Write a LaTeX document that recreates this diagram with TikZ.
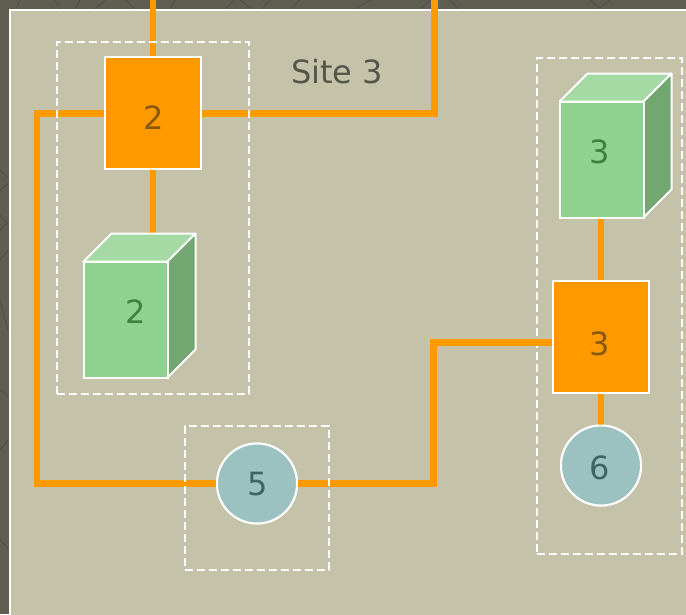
\documentclass[tikz,border=0pt]{standalone}
\usepackage{fontspec}
\setmainfont{DejaVu Sans}
\definecolor{bgdark}{HTML}{5E5F50}
\definecolor{bgline}{HTML}{50514A}
\definecolor{panel}{HTML}{C4C2A8}
\definecolor{wire}{HTML}{FF9900}
\definecolor{front}{HTML}{8FD18F}
\definecolor{topf}{HTML}{A5DAA5}
\definecolor{sidef}{HTML}{72A772}
\definecolor{teal}{HTML}{9BC1C1}
\definecolor{swtxt}{HTML}{885A10}
\definecolor{grtxt}{HTML}{3F7F3F}
\definecolor{cirtxt}{HTML}{3E6464}
\definecolor{titletxt}{HTML}{55564A}
\tikzset{
  wirel/.style={draw=wire,line width=6.4pt,line join=miter},
  grp/.style={draw=white,line width=2pt,dash pattern=on 8pt off 4pt,inner sep=0pt},
  sw/.style={draw=white,line width=2pt,fill=wire,inner sep=0pt,minimum width=96pt,minimum height=112pt},
  srvf/.style={draw=white,line width=2pt,fill=front,inner sep=0pt,minimum width=84pt,minimum height=116pt},
  cir/.style={circle,draw=white,line width=2pt,fill=teal,inner sep=0pt,minimum size=80pt},
  srvt/.style={draw=white,line width=2pt,fill=topf,line join=round},
  srvs/.style={draw=white,line width=2pt,fill=sidef,line join=round},
  lab/.style={font=\fontsize{32}{32}\selectfont,inner sep=0pt},
  tex/.style={draw=bgline,line width=1pt}
}
\begin{document}
\begin{tikzpicture}[x=1pt,y=-1pt]
\useasboundingbox (0,0) rectangle (686,614);
\fill[bgdark] (0,0) rectangle (686,614);
\draw[tex] (20,0)--(16,9) (55,0)--(60,9) (75,9)--(80,0) (95,9)--(105,0) (125,0)--(135,9) (170,9)--(175,0) (225,9)--(235,0) (240,0)--(252,9) (270,0)--(262,9) (290,9)--(300,0) (355,9)--(370,0) (420,9)--(430,0) (450,0)--(458,9) (590,0)--(600,9) (598,9)--(610,0);
\draw[tex] (0,170)--(8,178) (0,190)--(8,184) (0,215)--(8,225) (0,230)--(8,222) (0,260)--(8,250) (0,300)--(8,330) (0,390)--(8,396) (0,450)--(8,440) (0,540)--(8,548);
\draw[white,line width=2pt,fill=panel] (9.5,9.5) rectangle (700,630);
% groups
\node[grp,minimum width=192pt,minimum height=352pt] (g1) at (153,217.5) {};
\node[grp,minimum width=144pt,minimum height=144pt] (g2) at (257,497.5) {};
\node[grp,minimum width=145pt,minimum height=496pt] (g3) at (609.5,305.5) {};
% anchors
\coordinate (topa) at (153,-2);
\coordinate (topb) at (434.5,-2);
\coordinate (bend1) at (434.5,113.5);
\coordinate (bend2) at (37,113.5);
\coordinate (bend3) at (37,483.5);
\coordinate (bend4) at (433.5,483.5);
\coordinate (bend5) at (433.5,342.5);
\coordinate (d2top) at (153,236);
\coordinate (d3bot) at (601,216);
% nodes that the connectors are attached to
\node[sw] (sw2) at (153,113) {};
\node[sw] (sw3) at (601,337) {};
\node[cir] (ci5) at (257,483.5) {};
\node[cir] (ci6) at (601,465.5) {};
% wires
\draw[wirel] (topa) -- (sw2.north);
\draw[wirel] (sw2.east |- bend1) -- (bend1) -- (topb);
\draw[wirel] (sw2.west |- bend2) -- (bend2) -- (bend3) -- (ci5.west);
\draw[wirel] (ci5.east) -- (bend4) -- (bend5) -- (sw3.west |- bend5);
\draw[wirel] (sw2.south) -- (d2top);
\draw[wirel] (d3bot) -- (sw3.north);
\draw[wirel] (sw3.south) -- (ci6.north);
% dashed frames stay above the wires
\node[grp,minimum width=192pt,minimum height=352pt] at (153,217.5) {};
\node[grp,minimum width=144pt,minimum height=144pt] at (257,497.5) {};
% switches
\node[sw] at (153,113) {};
\node[sw] at (601,337) {};
\node[lab,text=swtxt] (l2) at (154,118) {2};
\node[lab,text=swtxt] (l3) at (600,344) {3};
% servers
\draw[srvt] (83.5,261.5) -- (111.5,233.5) -- (195.5,233.5) -- (167.5,261.5) -- cycle;
\draw[srvs] (167.5,261.5) -- (195.5,233.5) -- (195.5,349.5) -- (167.5,377.5) -- cycle;
\node[srvf] (b2) at (125.5,319.5) {};
\node[lab,text=grtxt] (bl2) at (136,312) {2};
\draw[srvt] (559.5,101.5) -- (587.5,73.5) -- (671.5,73.5) -- (643.5,101.5) -- cycle;
\draw[srvs] (643.5,101.5) -- (671.5,73.5) -- (671.5,189.5) -- (643.5,217.5) -- cycle;
\node[srvf] (b3) at (601.5,159.5) {};
\node[lab,text=grtxt] (bl3) at (600,152) {3};
% circles
\node[cir] at (257,483.5) {};
\node[cir] at (601,465.5) {};
\node[lab,text=cirtxt] (cl5) at (258,484) {5};
\node[lab,text=cirtxt] (cl6) at (600,468) {6};
\node[lab,text=titletxt] (title) at (337,72) {Site 3};
\end{tikzpicture}
\end{document}
